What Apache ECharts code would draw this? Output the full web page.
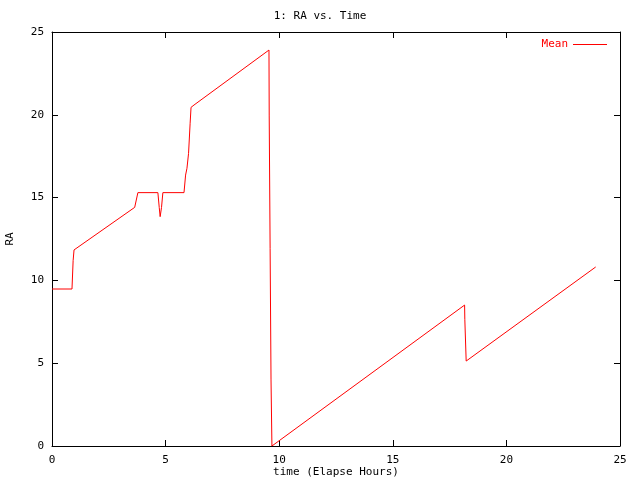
<!DOCTYPE html>
<html>
<head>
<meta charset="utf-8">
<script src="https://cdn.jsdelivr.net/npm/echarts@6/dist/echarts.min.js"></script>
<style>html,body{margin:0;padding:0;background:#fff}#c{width:640px;height:480px}</style>
</head>
<body>
<div id="c"></div>
<script>
var seriesName = 'Mean';
var timeHours = [0, 0.88, 0.93, 0.97, 3.64, 3.78, 4.66, 4.72, 4.76, 4.82, 4.88, 5.81, 5.88, 5.94, 6.01, 6.08, 6.12, 6.25, 9.55, 9.56, 9.60, 9.64, 9.68, 18.16, 18.17, 18.23, 23.93];
var raValues  = [9.48, 9.48, 11.2, 11.84, 14.41, 15.3, 15.3, 14.4, 13.85, 14.4, 15.3, 15.3, 16.36, 16.77, 17.67, 19.49, 20.45, 20.59, 23.91, 19.93, 11.94, 3.99, 0, 8.51, 7.65, 5.13, 10.81];
var xTicks = [0, 5, 10, 15, 20, 25];
var yTicks = [0, 5, 10, 15, 20, 25];

var data = timeHours.map(function (t, i) { return [t, raValues[i]]; });
var font = '"DejaVu Sans Mono", "Liberation Mono", monospace';
var chart = echarts.init(document.getElementById('c'), null, {renderer: 'canvas'});
var axisBase = {
  type: 'value', min: 0, max: 25, interval: 5,
  axisLine: {show: true, onZero: false, lineStyle: {color: '#000', width: 1}},
  axisTick: {show: true, inside: true, length: 6, lineStyle: {color: '#000'}},
  splitLine: {show: false}
};
chart.setOption({
  animation: false,
  backgroundColor: '#fff',
  title: {
    text: '1: RA vs. Time', left: 'center', top: 6,
    textStyle: {fontFamily: font, fontSize: 11, fontWeight: 'normal', color: '#000'}
  },
  legend: {
    data: [seriesName], right: 28, top: 34, align: 'right',
    icon: 'rect', itemWidth: 34, itemHeight: 1, itemGap: 10,
    textStyle: {fontFamily: font, fontSize: 11, color: '#f00'}
  },
  grid: {left: 52, right: 20, top: 32, bottom: 34, containLabel: false, outerBoundsMode: 'none'},
  xAxis: [
    Object.assign({}, axisBase, {
      position: 'bottom',
      name: 'time (Elapse Hours)', nameLocation: 'middle', nameGap: 21, nameMoveOverlap: false,
      nameTextStyle: {fontFamily: font, fontSize: 11, color: '#000'},
      axisLabel: {fontFamily: font, fontSize: 11, color: '#000', margin: 9,
        formatter: function (v) { return xTicks.indexOf(v) >= 0 ? String(v) : ''; }}
    }),
    Object.assign({}, axisBase, {position: 'top', axisLabel: {show: false}})
  ],
  yAxis: [
    Object.assign({}, axisBase, {
      position: 'left',
      name: 'RA', nameLocation: 'middle', nameGap: 36, nameRotate: 90,
      nameTextStyle: {fontFamily: font, fontSize: 11, color: '#000'},
      axisLabel: {fontFamily: font, fontSize: 11, color: '#000', margin: 8,
        formatter: function (v) { return yTicks.indexOf(v) >= 0 ? String(v) : ''; }}
    }),
    Object.assign({}, axisBase, {position: 'right', axisLabel: {show: false}})
  ],
  series: [{
    name: seriesName, type: 'line', data: data,
    xAxisIndex: 0, yAxisIndex: 0,
    showSymbol: false, symbol: 'none',
    lineStyle: {color: '#f00', width: 1},
    itemStyle: {color: '#f00'}
  }]
});
</script>
</body>
</html>
